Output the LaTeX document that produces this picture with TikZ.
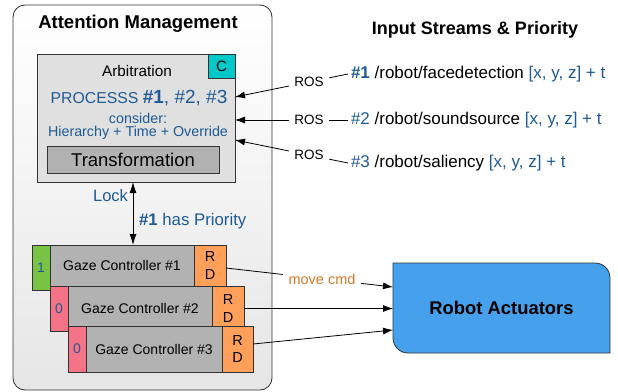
\documentclass[tikz,border=0pt]{standalone}
\usepackage{fontspec}
\setmainfont{Liberation Sans}
\usetikzlibrary{arrows.meta}
\definecolor{tblue}{RGB}{30,90,150}
\definecolor{torange}{RGB}{214,120,40}
\definecolor{arbgray}{RGB}{224,224,224}
\definecolor{midgray}{RGB}{178,178,178}
\definecolor{ccyan}{RGB}{0,200,200}
\definecolor{tabgreen}{RGB}{120,195,70}
\definecolor{tabpink}{RGB}{245,115,135}
\definecolor{rdorange}{RGB}{255,160,90}
\definecolor{robotblue}{RGB}{70,160,235}
\definecolor{edge}{RGB}{50,50,50}
\newcommand\fsz[1]{\fontsize{#1}{#1}\selectfont}
\begin{document}
\begin{tikzpicture}[x=1pt,y=-1pt,
  every node/.style={inner sep=0pt, outer sep=0pt},
  arr/.style={draw=black, line width=0.8pt, -{Latex[length=10pt,width=7pt]}},
  ros/.style={fill=white, inner sep=5pt, font=\fsz{13.5}},
  box/.style={draw=edge, line width=0.8pt, anchor=north west},
  tabbox/.style={box, minimum width=18pt, minimum height=45pt, text=tblue, font=\fsz{14}},
  gazebox/.style={box, fill=midgray, font=\fsz{14}},
  rdbox/.style={box, fill=rdorange, align=center, font=\fontsize{14.5}{17.5}\selectfont},
  stream/.style={anchor=west, inner sep=3pt, font=\fsz{17}}
]
\useasboundingbox (0,0) rectangle (618,391);

% outer container
\node (am) [draw=edge, line width=0.8pt, rounded corners=12pt, top color=white, bottom color=black!10,
  minimum width=259pt, minimum height=385pt] at (142.5,197.5) {};
\node (amtitle) at (138,24) {\fsz{18.5}\bfseries Attention Management};

% arbitration
\node (arb) [box, fill=arbgray, minimum width=198pt, minimum height=128pt] at (37,54) {};
\node (cbox) [draw=edge, line width=0.8pt, fill=ccyan, minimum width=27pt, minimum height=24pt,
  anchor=north east, font=\fsz{15}] at (arb.north east) {C};
\node (arbt) at (137,71) {\fsz{15.3}Arbitration};
\node (proc) at (139,98) {\color{tblue}\fsz{15.8}PROCESSS \fsz{19}\textbf{\#1}, \#2, \#3};
\node (cons) at (138,118) {\color{tblue}\fsz{14.3}consider:};
\node (hier) at (138,133) {\color{tblue}\fsz{14.3}Hierarchy + Time + Override};
\node (trans) [box, fill=midgray, minimum width=172pt, minimum height=27pt, font=\fsz{18.5}] at (47,146) {Transformation};

% gaze controllers
\node (tab1) [tabbox, fill=tabgreen] at (32,245) {1};
\node (g1) [gazebox, minimum width=144pt, minimum height=41pt] at (50,245) {Gaze Controller \#1};
\node (rd1) [rdbox, minimum width=32pt, minimum height=41pt] at (194,245) {R\\D};

\node (tab2) [tabbox, fill=tabpink] at (50,286) {0};
\node (g2) [gazebox, minimum width=144pt, minimum height=45pt] at (68,286) {Gaze Controller \#2};
\node (rd2) [rdbox, minimum width=32pt, minimum height=45pt] at (212,286) {R\\D};

\node (tab3) [tabbox, fill=tabpink, minimum height=46pt] at (68,326) {0};
\node (g3) [gazebox, minimum width=136pt, minimum height=46pt] at (86,326) {Gaze Controller \#3};
\node (rd3) [rdbox, minimum width=31pt, minimum height=46pt] at (222,326) {R\\D};

% lock arrow
\draw[line width=0.8pt, {Latex[length=11pt,width=7pt]}-{Latex[length=11pt,width=7pt]}]
  ([xshift=-3pt]arb.south) -- ([xshift=-3pt]arb.south |- g1.north)
  node[pos=0.22, anchor=east, xshift=-5pt, text=tblue, font=\fsz{16.5}] (lock) {Lock}
  node[pos=0.62, anchor=west, xshift=6pt, text=tblue, font=\fsz{16.8}] (prio) {\textbf{\#1} has Priority};

% input streams
\node (istitle) at (475,30) {\fsz{18}\bfseries Input Streams \& Priority};
\node (s1) [stream] at (348,74) {\textcolor{tblue}{\textbf{\#1}} /robot/facedetection \textcolor{tblue}{[x, y, z] + t}};
\node (s2) [stream] at (348,120) {\textcolor{tblue}{\#2} /robot/soundsource \textcolor{tblue}{[x, y, z] + t}};
\node (s3) [stream] at (348,163) {\textcolor{tblue}{\#3} /robot/saliency \textcolor{tblue}{[x, y, z] + t}};

\draw[arr] (s1.west) -- node[ros, pos=0.345] (ros1) {ROS} ([yshift=21pt]arb.east);
\draw[arr] (s2.west) -- node[ros, pos=0.345] (ros2) {ROS} (arb.east |- s2.west);
\draw[arr] (s3.west) -- node[ros, pos=0.345] (ros3) {ROS} ([yshift=-22pt]arb.east);

% robot actuators
\path[draw=edge, line width=0.8pt, fill=robotblue]
  (393,263) -- (595,263) .. controls (603.3,263) and (610,269.7) .. (610,278)
  -- (610,353) -- (408,353) .. controls (399.7,353) and (393,346.3) .. (393,338) -- cycle;
\node (robot) [minimum width=217pt, minimum height=90pt, font=\fsz{18.4}\bfseries] at (501.5,308) {Robot Actuators};

\draw[arr] ([yshift=-2.5pt]rd1.east) -- node[pos=0.575, fill=white, inner sep=6pt, text=torange, font=\fsz{14.5}] (mc) {move cmd} ([yshift=21pt]robot.west);
\draw[arr] (rd2.east) -- (robot.west |- rd2.east);
\draw[arr] ([yshift=5pt]rd3.east) -- ([yshift=-22pt]robot.west);
\end{tikzpicture}
\end{document}
